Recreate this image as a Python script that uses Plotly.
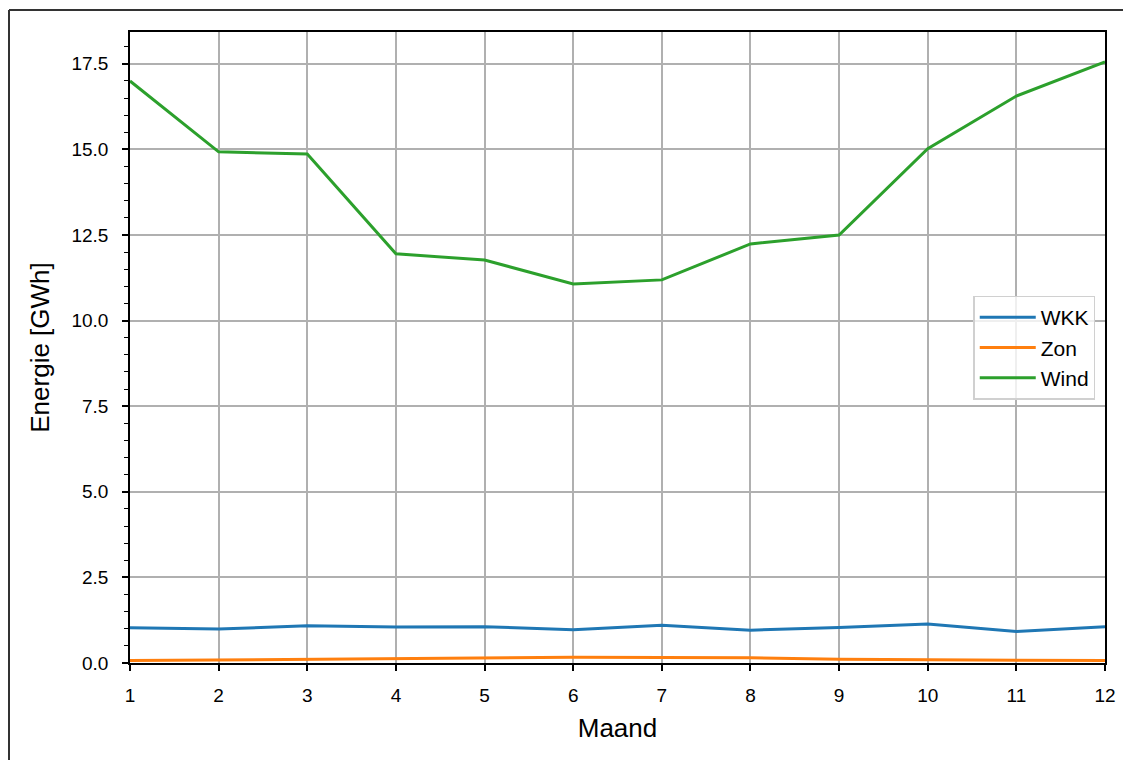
"""Monthly energy production per source (WKK, Zon, Wind)."""

import plotly.graph_objects as go

months = list(range(1, 13))
wkk = [1.03, 0.99, 1.09, 1.05, 1.06, 0.97, 1.10, 0.96, 1.04, 1.14, 0.92, 1.06]
zon = [0.07, 0.09, 0.11, 0.15, 0.15, 0.17, 0.16, 0.15, 0.11, 0.09, 0.07, 0.07]
wind = [17.0, 14.93, 14.87, 11.95, 11.77, 11.07, 11.19, 12.24, 12.50, 15.02, 16.56, 17.56]

series = [("WKK", wkk, "#1f77b4"), ("Zon", zon, "#ff7f0e"), ("Wind", wind, "#2ca02c")]

# page body has an 8px margin: the figure sits 8px right/down, so shift margins
W, H = 1131, 760
L, T = 122, 24
pw, ph = 975, 631
R, B = W - L - pw, H - T - ph


def px_x(p):
    return (p - L) / pw


def px_y(p):
    return (H - B - p) / ph


fig = go.Figure()
for name, vals, color in series:
    fig.add_trace(
        go.Scatter(
            x=months,
            y=vals,
            mode="lines",
            name=name,
            line=dict(color=color, width=3),
        )
    )

font = "Liberation Sans, Arial, sans-serif"
axis_common = dict(
    showline=True,
    linecolor="black",
    linewidth=1.6,
    mirror=True,
    showgrid=True,
    gridcolor="#b0b0b0",
    gridwidth=1.5,
    zeroline=False,
    automargin=False,
    ticks="outside",
    ticklen=6,
    tickwidth=1.6,
    tickcolor="black",
    tickfont=dict(size=19, color="black", family=font),
)

fig.update_layout(
    width=W,
    height=H,
    margin=dict(l=L, r=R, t=T, b=B),
    paper_bgcolor="white",
    plot_bgcolor="white",
    font=dict(family=font, color="black"),
    xaxis=dict(
        **axis_common,
        range=[1, 12],
        tickmode="array",
        tickvals=months,
        ticklabelstandoff=8,
        title=dict(text="Maand", font=dict(size=26), standoff=14),
    ),
    yaxis=dict(
        **axis_common,
        range=[0, 18.43],
        tick0=0,
        dtick=2.5,
        tickformat=".1f",
        ticklabelstandoff=10,
        minor=dict(
            dtick=0.5,
            tick0=0,
            ticks="outside",
            ticklen=4,
            tickwidth=1.3,
            tickcolor="black",
            showgrid=False,
        ),
        title=dict(text="Energie [GWh]", font=dict(size=26), standoff=14),
    ),
    legend=dict(
        x=0.99,
        y=0.5,
        xanchor="right",
        yanchor="middle",
        bgcolor="rgba(255,255,255,0.8)",
        bordercolor="#d0d0d0",
        borderwidth=1.5,
        font=dict(size=21, family=font),
        itemwidth=56,
    ),
    showlegend=True,
)

# outer figure frame, partly cut off at the top/right of the picture
frame = dict(type="line", xref="paper", yref="paper", layer="above",
             line=dict(color="#333333", width=2))
fig.add_shape(x0=px_x(1), x1=px_x(1), y0=px_y(H), y1=px_y(2), **frame)
fig.add_shape(x0=px_x(1), x1=px_x(W), y0=px_y(2), y1=px_y(2), **frame)

fig.write_html("out.html")
